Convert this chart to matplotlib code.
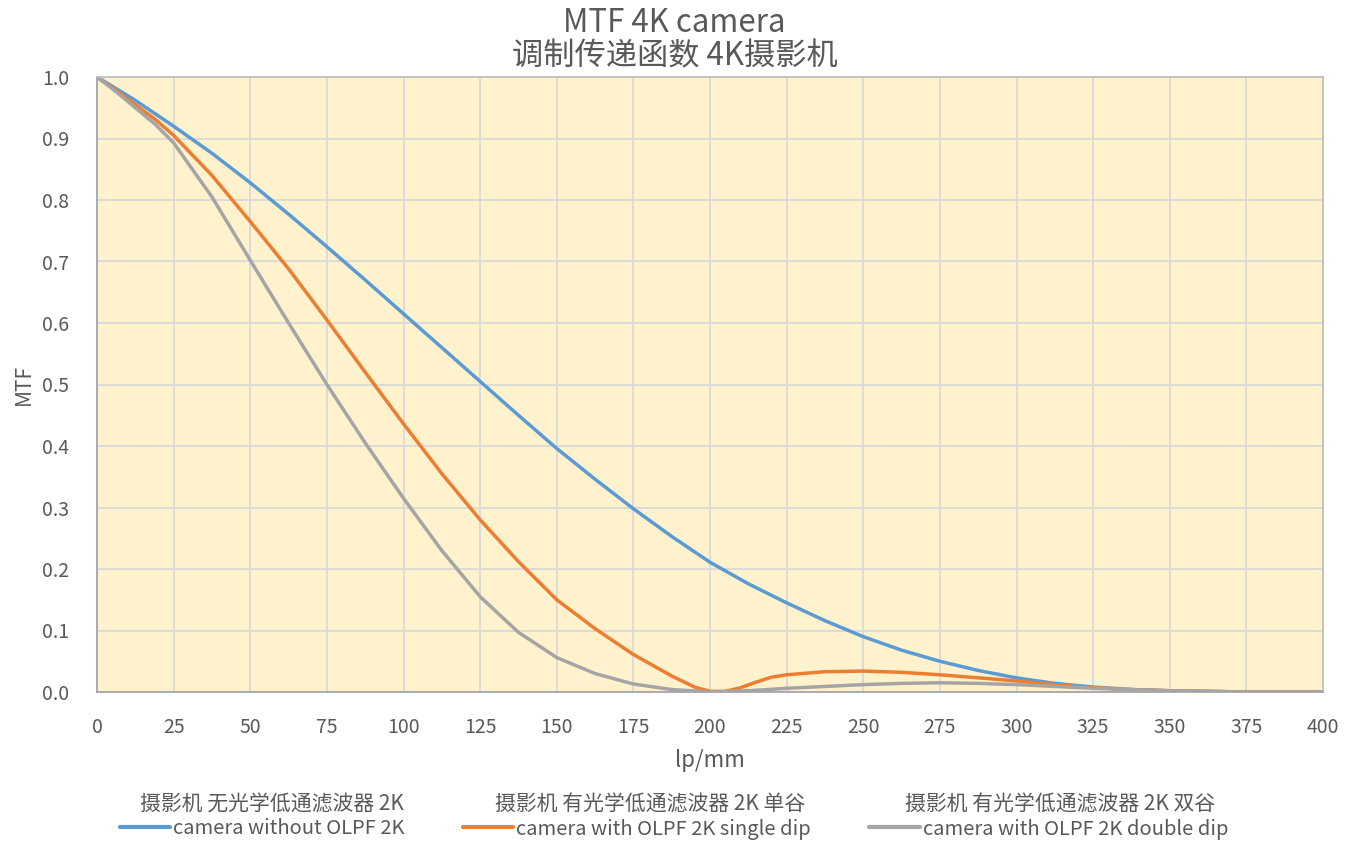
import numpy as np
import matplotlib
matplotlib.use("Agg")
import matplotlib.pyplot as plt

plt.rcParams["font.family"] = ["Noto Sans CJK SC", "DejaVu Sans"]

# ---- Data ----
freq = [0, 12.5, 25, 37.5, 50, 62.5, 75, 87.5, 100, 112.5, 125, 137.5, 150,
        162.5, 175, 187.5, 200, 212.5, 225, 237.5, 250, 262.5, 275, 287.5,
        300, 312.5, 325, 337.5, 350, 362.5, 375, 387.5, 400]

mtf_no_olpf = [1.0, 0.962, 0.920, 0.876, 0.828, 0.777, 0.724, 0.670, 0.615,
               0.560, 0.505, 0.450, 0.396, 0.346, 0.298, 0.253, 0.211, 0.176,
               0.145, 0.116, 0.090, 0.068, 0.050, 0.035, 0.023, 0.014, 0.008,
               0.004, 0.002, 0.001, 0.0, 0.0, 0.0]

freq_single = [0, 6, 12.5, 19, 25, 37.5, 50, 62.5, 75, 87.5, 100, 112.5, 125,
               137.5, 150, 162.5, 175, 187.5, 195, 200, 205, 210, 215, 220,
               225, 237.5, 250, 262.5, 275, 287.5, 300, 312.5, 325, 337.5, 350,
               375, 400]
mtf_single = [1.0, 0.979, 0.955, 0.931, 0.905, 0.840, 0.765, 0.688, 0.605,
              0.520, 0.436, 0.355, 0.280, 0.212, 0.150, 0.103, 0.061, 0.026,
              0.008, 0.001, 0.001, 0.007, 0.016, 0.024, 0.028, 0.033, 0.034,
              0.032, 0.028, 0.023, 0.018, 0.012, 0.007, 0.004, 0.002, 0.0, 0.0]

freq_double = [0, 6, 12.5, 19, 25, 37.5, 50, 62.5, 75, 87.5, 100, 112.5, 125,
               137.5, 150, 162.5, 175, 187.5, 200, 212.5, 225, 237.5, 250,
               262.5, 275, 287.5, 300, 312.5, 325, 337.5, 350, 375, 400]
mtf_double = [1.0, 0.977, 0.950, 0.923, 0.893, 0.805, 0.702, 0.600, 0.500,
              0.405, 0.315, 0.230, 0.155, 0.097, 0.056, 0.030, 0.013, 0.004,
              0.0, 0.002, 0.006, 0.009, 0.012, 0.014, 0.015, 0.014, 0.012,
              0.009, 0.006, 0.004, 0.002, 0.0, 0.0]

labels_en = ["camera without OLPF 2K", "camera with OLPF 2K single dip",
             "camera with OLPF 2K double dip"]
labels_zh = ["摄影机 无光学低通滤波器 2K", "摄影机 有光学低通滤波器 2K 单谷",
             "摄影机 有光学低通滤波器 2K 双谷"]
colors = ["#5B9BD5", "#ED7D31", "#A5A5A5"]

TEXT = "#595959"
W, H = 1349, 848

fig = plt.figure(figsize=(W / 100, H / 100), dpi=100)
ax = fig.add_axes([97 / W, 1 - 692 / H, (1323 - 97) / W, (692 - 77) / H])
ax.set_facecolor("#FFF2CC")

series = [(freq, mtf_no_olpf), (freq_single, mtf_single), (freq_double, mtf_double)]
for (xs, ys), c, lab in zip(series, colors, labels_en):
    ax.plot(xs, ys, color=c, lw=2.5, label=lab, solid_capstyle="round",
            solid_joinstyle="round")

ax.set_xlim(0, 400)
ax.set_ylim(0, 1.0)
ax.set_xticks(np.arange(0, 401, 25))
ax.set_yticks(np.arange(0, 1.01, 0.1))
ax.yaxis.set_major_formatter(matplotlib.ticker.FormatStrFormatter("%.1f"))
ax.grid(True, color="#D9D9D9", lw=1.3)
ax.set_axisbelow(True)
ax.tick_params(length=0, labelsize=14, labelcolor=TEXT)
ax.tick_params(axis="y", pad=20)
ax.tick_params(axis="x", pad=18)
for side, sp in ax.spines.items():
    sp.set_color("#BFBFBF" if side in ("top", "right") else "#A6A6A6")
    sp.set_linewidth(1.3)

ax.set_xlabel("lp/mm", fontsize=16, color=TEXT, labelpad=8)
ax.set_ylabel("MTF", fontsize=15, color=TEXT, labelpad=5)

fig.text(0.5, 1 - 23 / H, "MTF 4K camera", ha="center", va="center",
         fontsize=22.5, color=TEXT)
fig.text(0.5, 1 - 56 / H, "调制传递函数 4K摄影机", ha="center", va="center",
         fontsize=22.5, color=TEXT)

# Legend: English lines with handles, Chinese lines above each entry
leg = fig.legend(loc="center", bbox_to_anchor=(674 / W, 1 - 829 / H), ncol=3,
                 frameon=False, fontsize=14.5, handlelength=2.5, handletextpad=0.15,
                 columnspacing=2.9, labelcolor=TEXT)
for ln in leg.get_lines():
    ln.set_linewidth(3)

for lab, cx in zip(labels_zh, [272, 650, 1060]):
    fig.text(cx / W, 1 - 805 / H, lab, ha="center", va="center",
             fontsize=15, color=TEXT)

fig.savefig("out.png", dpi=100, facecolor="white")
